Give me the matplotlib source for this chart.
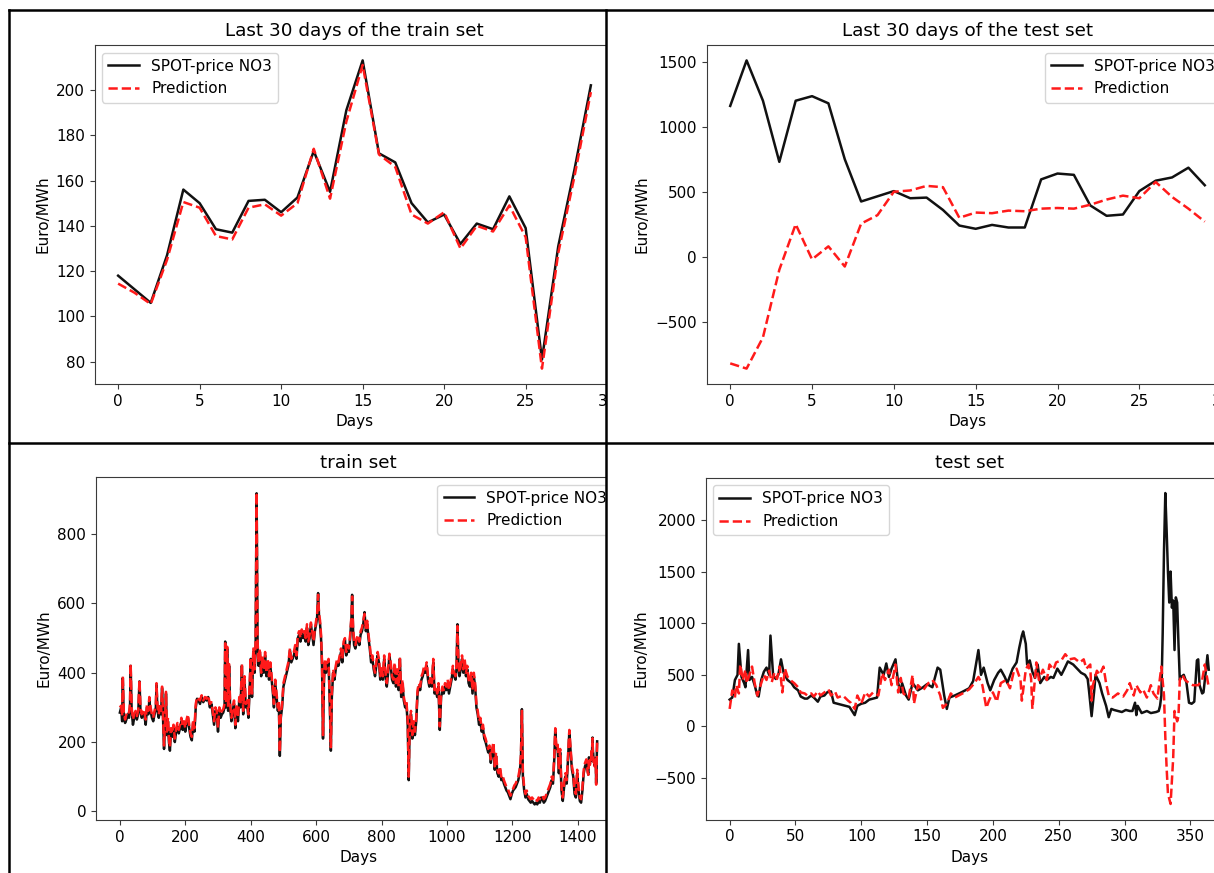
import matplotlib
matplotlib.use("Agg")
import matplotlib.pyplot as plt
from matplotlib.patches import Rectangle
from matplotlib.lines import Line2D
import numpy as np

# ---------------- data: last 30 days of the train set ----------------
last30_train_actual = [118, 112, 106, 127, 156, 150, 138.5, 137, 151, 151.5,
                       146, 152.5, 173, 155, 191, 213, 172, 168, 150, 141.5,
                       145, 132, 141, 138.5, 153, 139, 81, 131, 165, 202]
last30_train_pred = [114.5, 110.5, 105.5, 125, 150.5, 148, 135.5, 134, 148, 149.5,
                     144.5, 150, 174, 152, 186, 211, 171.5, 166, 145, 141,
                     146, 130, 140, 137.5, 149, 135, 77, 128, 162, 199]

# ---------------- data: last 30 days of the test set ----------------
last30_test_actual = [1160, 1510, 1200, 730, 1200, 1235, 1180, 750, 425, 465,
                      505, 450, 455, 360, 240, 215, 245, 225, 225, 595,
                      640, 630, 395, 315, 325, 505, 585, 610, 685, 550]
last30_test_pred = [-820, -860, -620, -100, 250, -20, 80, -75, 255, 320,
                    500, 510, 545, 535, 300, 340, 335, 355, 350, 370,
                    375, 370, 400, 440, 470, 450, 575, 460, 370, 270]

# ---------------- data: train set ----------------
train_days = [0, 4, 7, 9, 12, 16, 20, 24, 28, 31,
              33, 36, 40, 44, 48, 52, 56, 60, 63, 67,
              71, 75, 79, 83, 87, 90, 94, 98, 102, 106,
              110, 112, 115, 119, 123, 126, 129, 132, 135, 138,
              141, 144, 147, 150, 153, 156, 160, 164, 168, 172,
              176, 180, 184, 188, 192, 196, 200, 204, 208, 212,
              216, 220, 224, 228, 232, 236, 240, 245, 250, 255,
              260, 265, 270, 275, 280, 284, 288, 292, 296, 300,
              304, 308, 312, 316, 320, 322, 325, 328, 331, 334,
              337, 341, 345, 349, 353, 357, 361, 365, 369, 373,
              377, 381, 385, 389, 393, 397, 400, 404, 408, 412,
              415, 418, 421, 424, 428, 432, 436, 440, 444, 448,
              452, 456, 460, 464, 468, 471, 475, 479, 483, 486,
              489, 492, 496, 500, 505, 510, 515, 520, 524, 528,
              532, 536, 540, 544, 548, 552, 556, 560, 564, 568,
              572, 576, 580, 584, 588, 592, 596, 600, 603, 606,
              609, 612, 615, 618, 621, 624, 627, 630, 634, 638,
              642, 645, 648, 652, 656, 660, 664, 668, 672, 676,
              680, 684, 688, 692, 696, 700, 704, 708, 710, 713,
              716, 720, 724, 728, 732, 736, 740, 744, 748, 752,
              756, 760, 764, 768, 772, 776, 780, 784, 788, 792,
              796, 800, 804, 808, 812, 816, 820, 824, 828, 832,
              836, 840, 844, 848, 852, 856, 860, 864, 868, 872,
              876, 880, 883, 886, 890, 894, 898, 902, 906, 910,
              914, 918, 922, 926, 930, 934, 938, 942, 946, 950,
              954, 958, 962, 966, 970, 974, 978, 982, 986, 990,
              994, 998, 1002, 1006, 1010, 1014, 1018, 1022, 1026, 1029,
              1032, 1035, 1038, 1042, 1046, 1050, 1054, 1058, 1062, 1066,
              1070, 1074, 1078, 1082, 1086, 1090, 1094, 1098, 1102, 1106,
              1110, 1114, 1118, 1122, 1126, 1130, 1134, 1138, 1142, 1146,
              1150, 1154, 1158, 1162, 1166, 1170, 1174, 1178, 1182, 1186,
              1190, 1194, 1198, 1202, 1206, 1210, 1214, 1218, 1222, 1226,
              1229, 1232, 1236, 1240, 1244, 1248, 1252, 1256, 1260, 1264,
              1268, 1272, 1276, 1280, 1284, 1288, 1292, 1296, 1300, 1304,
              1308, 1312, 1316, 1320, 1324, 1328, 1331, 1334, 1338, 1342,
              1346, 1350, 1354, 1358, 1362, 1366, 1370, 1374, 1378, 1382,
              1386, 1390, 1394, 1398, 1402, 1406, 1410, 1414, 1418, 1422,
              1426, 1430, 1431, 1432, 1433, 1434, 1435, 1436, 1437, 1438,
              1439, 1440, 1441, 1442, 1443, 1444, 1445, 1446, 1447, 1448,
              1449, 1450, 1451, 1452, 1453, 1454, 1455, 1456, 1457, 1458,
              1459]
train_actual = [285, 300, 260, 385, 270, 255, 265, 280, 270, 300,
                420, 290, 250, 270, 285, 265, 280, 375, 290, 270,
                285, 275, 250, 300, 280, 320, 290, 270, 260, 280,
                300, 365, 290, 270, 300, 280, 355, 270, 180, 250,
                340, 220, 260, 200, 175, 230, 215, 240, 200, 230,
                245, 225, 240, 260, 235, 250, 230, 255, 270, 240,
                215, 205, 255, 230, 300, 325, 320, 310, 330, 315,
                325, 320, 330, 300, 310, 280, 250, 290, 280, 230,
                290, 270, 280, 285, 300, 490, 300, 470, 290, 420,
                300, 260, 290, 310, 240, 300, 260, 320, 300, 420,
                280, 380, 300, 310, 270, 360, 440, 330, 460, 400,
                480, 918, 480, 420, 460, 390, 440, 400, 450, 390,
                430, 380, 420, 380, 340, 300, 370, 330, 290, 310,
                160, 270, 300, 360, 380, 400, 420, 465, 430, 440,
                450, 470, 440, 500, 510, 490, 520, 500, 510, 490,
                530, 480, 500, 540, 510, 480, 520, 540, 560, 630,
                560, 540, 500, 420, 210, 380, 430, 400, 420, 430,
                300, 175, 330, 400, 380, 410, 430, 420, 440, 460,
                430, 480, 495, 450, 470, 460, 500, 560, 625, 520,
                480, 470, 490, 500, 480, 510, 520, 540, 575, 520,
                540, 500, 470, 430, 440, 410, 390, 420, 450, 430,
                380, 410, 380, 440, 390, 360, 400, 450, 420, 380,
                370, 420, 360, 400, 350, 440, 330, 370, 320, 300,
                310, 250, 90, 250, 280, 210, 250, 220, 260, 340,
                360, 350, 380, 390, 410, 400, 420, 380, 360, 380,
                360, 430, 340, 350, 330, 360, 235, 330, 350, 340,
                360, 350, 370, 340, 360, 380, 410, 390, 380, 410,
                540, 420, 390, 410, 440, 400, 430, 390, 410, 370,
                360, 390, 340, 390, 360, 300, 280, 250, 260, 230,
                240, 210, 200, 185, 170, 180, 140, 170, 190, 120,
                160, 110, 100, 120, 90, 95, 80, 70, 60, 55,
                45, 35, 50, 60, 65, 70, 80, 90, 110, 150,
                295, 100, 60, 40, 50, 35, 30, 25, 30, 25,
                20, 25, 20, 30, 25, 40, 35, 25, 30, 40,
                50, 60, 70, 90, 80, 150, 235, 180, 190, 110,
                170, 60, 30, 70, 100, 80, 150, 230, 170, 120,
                100, 50, 40, 110, 60, 30, 25, 60, 110, 130,
                140, 118, 112, 106, 127, 156, 150, 138, 137, 151,
                151, 146, 152, 173, 155, 191, 213, 172, 168, 150,
                141, 145, 132, 141, 138, 153, 139, 81, 131, 165,
                202]
train_pred = [300, 305, 275, 390, 285, 265, 280, 290, 285, 310,
              425, 300, 265, 280, 290, 275, 290, 380, 300, 280,
              295, 285, 265, 310, 290, 330, 300, 280, 270, 290,
              310, 370, 300, 280, 310, 290, 360, 280, 190, 255,
              345, 230, 270, 210, 185, 240, 225, 250, 210, 240,
              255, 235, 250, 270, 245, 260, 240, 265, 280, 250,
              225, 215, 265, 240, 310, 330, 325, 320, 335, 320,
              330, 325, 335, 310, 315, 290, 260, 300, 290, 240,
              300, 280, 290, 295, 310, 485, 310, 475, 300, 425,
              310, 270, 300, 320, 250, 310, 270, 330, 310, 425,
              290, 390, 310, 320, 280, 370, 445, 340, 470, 410,
              490, 920, 490, 430, 470, 400, 450, 410, 460, 400,
              440, 390, 430, 390, 350, 310, 380, 340, 300, 320,
              170, 280, 310, 370, 390, 410, 430, 470, 440, 450,
              460, 480, 450, 510, 520, 500, 525, 510, 520, 500,
              540, 490, 510, 545, 520, 490, 525, 550, 570, 625,
              570, 550, 510, 430, 220, 390, 440, 410, 430, 440,
              310, 185, 340, 410, 390, 420, 440, 430, 450, 470,
              440, 490, 500, 460, 480, 470, 510, 565, 620, 530,
              490, 480, 500, 510, 490, 520, 530, 550, 570, 530,
              550, 510, 480, 440, 450, 420, 400, 430, 460, 440,
              390, 420, 390, 450, 400, 370, 410, 455, 430, 390,
              380, 430, 370, 410, 360, 445, 340, 380, 330, 310,
              320, 260, 100, 255, 290, 220, 260, 230, 270, 350,
              370, 360, 390, 400, 420, 410, 430, 390, 370, 390,
              370, 440, 350, 360, 340, 370, 245, 340, 360, 350,
              370, 360, 380, 350, 370, 390, 420, 400, 390, 420,
              535, 430, 400, 420, 450, 410, 440, 400, 420, 380,
              370, 400, 350, 400, 370, 310, 290, 260, 270, 240,
              250, 220, 210, 195, 180, 190, 150, 180, 200, 130,
              170, 120, 110, 130, 100, 105, 90, 80, 70, 65,
              55, 45, 55, 65, 75, 80, 90, 100, 120, 160,
              290, 110, 70, 50, 60, 45, 40, 35, 40, 35,
              30, 35, 30, 40, 35, 45, 45, 35, 40, 50,
              60, 70, 80, 100, 90, 160, 240, 190, 200, 120,
              180, 70, 40, 80, 110, 90, 160, 235, 180, 130,
              110, 60, 50, 120, 70, 40, 35, 70, 120, 140,
              150, 114.5, 110.5, 105.5, 125, 150.5, 148, 135.5, 134, 148,
              149.5, 144.5, 150, 174, 152, 186, 211, 171.5, 166, 145,
              141, 146, 130, 140, 137.5, 149, 135, 77, 128, 162,
              199]

# ---------------- data: test set ----------------
test_days_actual = [0, 2, 4, 6, 7, 9, 11, 12, 14, 15,
                    17, 19, 21, 22, 24, 26, 28, 30, 31, 33,
                    35, 37, 39, 41, 44, 47, 49, 52, 54, 57,
                    59, 62, 64, 67, 69, 72, 74, 77, 79, 82,
                    85, 88, 91, 93, 95, 97, 100, 103, 106, 109,
                    112, 114, 117, 119, 121, 123, 126, 128, 130, 131,
                    134, 136, 139, 143, 147, 150, 154, 158, 160, 163,
                    165, 167, 171, 176, 182, 185, 189, 191, 193, 196,
                    198, 201, 204, 206, 209, 211, 215, 218, 220, 222,
                    223, 225, 226, 228, 230, 232, 234, 236, 239, 241,
                    244, 246, 249, 252, 254, 257, 261, 264, 267, 270,
                    272, 273, 275, 277, 278, 281, 283, 286, 288, 290,
                    292, 295, 298, 301, 304, 306, 308, 309, 310, 313,
                    317, 320, 324, 326, 327, 328, 329, 330, 331, 332,
                    333, 334, 335, 336, 337, 338, 339, 340, 341, 342,
                    343, 345, 347, 349, 351, 353, 355, 356, 357, 359,
                    360, 362, 363, 364]
test_actual = [260, 280, 450, 500, 800, 480, 420, 380, 740, 450,
               480, 400, 300, 290, 450, 530, 570, 500, 880, 500,
               460, 500, 650, 520, 450, 420, 380, 350, 290, 270,
               270, 300, 280, 240, 290, 300, 330, 340, 230, 220,
               210, 200, 190, 150, 110, 200, 220, 230, 260, 270,
               280, 570, 500, 610, 480, 560, 650, 420, 330, 420,
               300, 260, 420, 350, 380, 410, 380, 570, 550, 300,
               170, 280, 300, 330, 370, 440, 740, 500, 570, 420,
               350, 450, 520, 550, 480, 420, 560, 620, 760, 880,
               920, 800, 600, 640, 530, 470, 600, 420, 480, 450,
               480, 470, 560, 500, 550, 630, 600, 560, 520, 500,
               460, 350, 100, 350, 500, 420, 320, 200, 90, 170,
               160, 150, 140, 160, 150, 150, 230, 110, 200, 130,
               150, 130, 140, 150, 200, 300, 900, 1700, 2260, 1900,
               1500, 1200, 1500, 1150, 1220, 740, 1250, 1200, 800, 450,
               480, 500, 430, 230, 220, 240, 640, 650, 400, 320,
               330, 560, 690, 550]
test_days_pred = [0, 2, 4, 5, 7, 8, 10, 12, 13, 15,
                  17, 19, 21, 24, 26, 28, 30, 32, 34, 36,
                  38, 40, 42, 44, 47, 49, 52, 54, 57, 59,
                  62, 64, 67, 69, 72, 75, 77, 80, 82, 86,
                  90, 92, 95, 97, 100, 103, 106, 109, 113, 116,
                  118, 121, 123, 126, 128, 130, 132, 136, 139, 140,
                  143, 147, 151, 154, 157, 160, 162, 165, 168, 171,
                  177, 182, 186, 189, 192, 195, 197, 200, 203, 206,
                  210, 213, 216, 218, 221, 222, 225, 227, 229, 230,
                  233, 235, 238, 241, 243, 246, 248, 252, 255, 258,
                  262, 266, 269, 271, 274, 275, 276, 279, 281, 284,
                  286, 288, 291, 295, 299, 302, 304, 307, 309, 312,
                  314, 317, 320, 322, 325, 327, 328, 330, 331, 332,
                  333, 335, 337, 338, 340, 341, 342, 344, 346, 349,
                  352, 356, 359, 361, 364]
test_pred = [170, 350, 280, 400, 320, 600, 450, 550, 420, 500,
             580, 420, 300, 420, 500, 450, 540, 430, 520, 460,
             580, 330, 560, 480, 440, 420, 380, 330, 320, 300,
             320, 290, 340, 300, 330, 360, 300, 340, 280, 300,
             250, 230, 170, 300, 220, 330, 290, 330, 300, 520,
             450, 550, 400, 600, 330, 470, 320, 280, 500, 220,
             400, 350, 420, 450, 400, 300, 180, 220, 320, 280,
             320, 360, 420, 480, 400, 180, 250, 330, 240, 420,
             450, 370, 540, 560, 450, 250, 550, 600, 470, 170,
             620, 450, 550, 450, 600, 550, 620, 640, 700, 650,
             660, 620, 650, 560, 600, 250, 400, 540, 500, 580,
             420, 300, 280, 320, 290, 350, 420, 300, 400, 330,
             360, 280, 400, 320, 270, 480, 580, 300, -100, -400,
             -650, -750, -300, 150, 50, 100, 450, 500, 450, 420,
             400, 400, 450, 600, 380]

# ---------------- figure ----------------
W, H = 1214, 873
fig = plt.figure(figsize=(W / 100, H / 100), dpi=100)

ACT_COLOR = "#111111"
PRED_COLOR = "#ff1a1a"
SPINE_COLOR = "#3a3a3a"
FS = 11


def px_rect(left, top, right, bottom):
    return [left / W, (H - bottom) / H, (right - left) / W, (bottom - top) / H]


def panel(rect, xa, ya, xp, yp, title, loc, z):
    ax = fig.add_axes(rect)
    ax.plot(xa, ya, color=ACT_COLOR, lw=1.8, label="SPOT-price NO3")
    ax.plot(xp, yp, color=PRED_COLOR, lw=1.8, ls="--", label="Prediction")
    ax.set_title(title, fontsize=13.2, pad=6.5)
    ax.set_xlabel("Days", fontsize=FS)
    ax.set_ylabel("Euro/MWh", fontsize=FS)
    ax.tick_params(labelsize=FS, color=SPINE_COLOR)
    for s in ax.spines.values():
        s.set_color(SPINE_COLOR)
    ax.legend(loc=loc, fontsize=FS)
    ax.set_zorder(z)
    return ax


panel(px_rect(94.5, 45, 614.5, 384),
      np.arange(len(last30_train_actual)), last30_train_actual,
      np.arange(len(last30_train_pred)), last30_train_pred,
      "Last 30 days of the train set", "upper left", 0)
panel(px_rect(96, 477, 621, 820),
      train_days, train_actual, train_days, train_pred,
      "train set", "upper right", 0)

# white mask clipping the left panels at the divider
fig.add_artist(Rectangle((606 / W, 0), (W - 606) / W, 1, transform=fig.transFigure,
                         facecolor="white", edgecolor="none", zorder=1))

panel(px_rect(706.5, 45, 1228.5, 384),
      np.arange(len(last30_test_actual)), last30_test_actual,
      np.arange(len(last30_test_pred)), last30_test_pred,
      "Last 30 days of the test set", "upper right", 2)
panel(px_rect(705.7, 477.5, 1232.7, 819.5),
      test_days_actual, test_actual, test_days_pred, test_pred,
      "test set", "upper left", 2)


# screenshot frame lines
def fline(x0, y0, x1, y1, lw=1.8):
    fig.add_artist(Line2D([x0 / W, x1 / W], [(H - y0) / H, (H - y1) / H],
                          transform=fig.transFigure, color="black", lw=lw, zorder=5))


fline(9, 10, 9, H)
fline(9, 10, W, 10)
fline(9, 443, W, 443)
fline(605.5, 10, 605.5, H)

fig.savefig("out.png", dpi=100)
